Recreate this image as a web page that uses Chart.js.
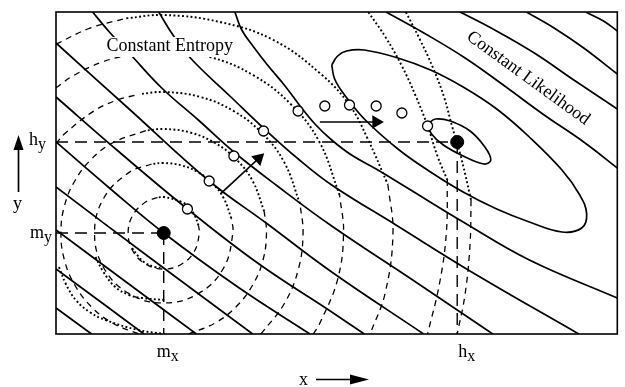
<!DOCTYPE html>
<html>
<head>
<meta charset="utf-8">
<script src="https://cdn.jsdelivr.net/npm/chart.js@4.4.1/dist/chart.umd.min.js"></script>
<style>body{margin:0;background:#fff}</style>
</head>
<body>
<canvas id="chart" width="625" height="387"></canvas>
<script>
// all points, plot box spans 568 x 322 units
var mPoint = [109, 101];
var hPoint = [406, 192];
var trajectory = [[133,125],[155,153],[180,178],[210,203],[245,223],[272,228],[297,229],[324,228],[350,221],[376,208]];

// constant likelihood (solid), lower-left sides of the ellipses round h
var like_a = [[0,26],[18,13],[36,0]];
var like_b = [[0,65],[44,33],[89,0]];
var like_c = [[0,104],[71,52],[142,0]];
var like_d = [[0,147],[94,77],[199,0]];
var like_e = [[0,192],[54,146],[109,101],[184,47],[257,0]];
var like_f = [[0,237],[64,182],[133,125],[204,71],[279,22],[312,0]];
var like_g = [[0,291],[74,225],[155,153],[214,110],[279,62],[372,0]];
var like_h = [[37,322],[54,302],[74,281],[107,246],[144,214],[180,182],[224,148],[279,108],[364,52],[442,0]];
var like_i = [[104,322],[117,301],[136,276],[177,237],[211,205],[244,176],[279,149],[344,109],[424,60],[529,0]];
var like_j = [[181,322],[188,304],[200,287],[214,269],[231,249],[247,228],[262,210],[279,194],[299,179],[324,165],[354,147],[412,112],[479,74],[568,36]];
// upper-right sides
var like_j2 = [[334,322],[374,300],[414,276],[454,248],[494,219],[534,192],[568,166]];
var like_i2 = [[409,322],[444,304],[484,281],[524,254],[568,225]];
var like_h2 = [[476,322],[504,306],[534,286],[568,260]];
var like_g2 = [[536,322],[554,313],[568,303]];
// closed ellipses
var like_e2 = [[279,269],[285,278],[294,283],[312,284],[346,276],[379,264],[412,247],[446,225],[479,197],[512,164],[530,139],[537,120],[532,106],[512,102],[479,112],[446,125],[412,142],[379,162],[346,185],[312,215],[292,239],[282,255],[279,269]];
var like_e1 = [[376,210],[384,215],[399,213],[419,203],[434,187],[440,174],[433,170],[412,178],[392,189],[380,200],[376,210]];

// constant entropy, round m: dashed parts
var ent6_dash = [[102.7,136.5],[91,132.2],[77.8,119],[73,101],[77.8,83],[91,69.8],[109,65],[127,69.8],[140.2,83],[145,101],[144.2,108.5]];
var ent5_dash = [[96.8,170],[74,161.6],[48.4,136],[39,101],[48.4,66],[74,40.4],[109,31],[144,40.4],[169.6,66],[179,101],[177.5,115.6]];
var ent4_dash_l = [[90.9,203.4],[57,191],[35.5,174.5],[19,153],[8.5,128],[5,101],[8.5,74],[19,49],[35.5,27.5],[57,11],[84,0]];
var ent4_dash_r = [[134,0],[161,11],[182.5,27.5],[199,49],[209.5,74],[213,101],[210.7,122.6]];
var ent3_dash_l = [[0,190.4],[9.3,200.7],[38.5,223.1],[60.7,233.5],[84.5,239.9]];
var ent3_dash_r = [[207.4,0],[231.1,30.5],[245.2,64.5],[250,101],[246.9,130.3]];
var ent2_dash_l = [[0,246.3],[18,258.6],[46.8,272],[77.4,280.2]];
var ent2_dash_r = [[260.4,0],[266.6,10],[284.8,53.9],[291,101],[287,138.9]];
var ent1_dash_l = [[0,289.8],[34.4,305.9],[71.1,315.7]];
var ent1_dash_r = [[335.9,149.3],[341,101],[333.1,41],[317.9,0]];
var ent0_dash = [[396,154],[395,101],[388,50],[376,0]];
var entm_dash = [[420,134],[419,90],[414,40],[406,0]];
// dotted parts
var ent6_dot = [[144.2,108.5],[140.2,119],[134.5,126.5],[127,132.2],[109,137],[102.7,136.5]];
var ent6_low = [[77,86],[83,78],[89,72],[100,67],[109,66]];
var ent5_dot = [[177.5,115.6],[169.6,136],[158.5,150.5],[144,161.6],[127.1,168.6],[109,171],[96.8,170]];
var ent5_low = [[40,77],[48,62],[60,47],[74,39],[87,36],[110,34]];
var ent4_dot = [[210.7,122.6],[199,153],[182.5,174.5],[161,191],[135.9,201.5],[109,205],[90.9,203.4]];
var ent4_low = [[3,67],[10,50],[20,34],[34,22],[50,14],[83,4],[110,0]];
var ent3_dot = [[246.9,130.3],[231.1,171.5],[208.7,200.7],[179.5,223.1],[145.5,237.2],[109,242],[84.5,239.9]];
var ent2_dot = [[287,138.9],[266.6,192],[237.7,229.7],[200,258.6],[156.1,276.8],[109,283],[77.4,280.2]];
var ent1_dot = [[71.1,315.7],[109,319],[166,312],[220,294],[268,260],[297,229],[315,196],[335.9,149.3]];
var ent0_dot = [[316,322],[334,296],[350,268],[364,238],[376,208],[386,178],[396,154]];
var entm_dot = [[354,322],[368,295],[382,265],[393,236],[401,207],[409,180],[414,160],[420,134]];

// guides and arrows
var hyLine = [[0,192],[406,192]];
var hxLine = [[406,192],[406,0]];
var myLine = [[0,101],[109,101]];
var mxLine = [[109,101],[109,0]];
var arrowUp = [[166.7,140.3],[205,175.5]];
var arrowRight = [[267,212],[324,212]];

function pts(arr){ return arr.map(function(p){ return {x:p[0], y:p[1]}; }); }
function solid(arr){ return {data:pts(arr), showLine:true, borderColor:'#000', borderWidth:1.7, pointRadius:0, tension:0.4}; }
function dashed(arr){ return {data:pts(arr), showLine:true, borderColor:'#000', borderWidth:1.3, borderDash:[6,5], pointRadius:0, tension:0.4}; }
function dotted(arr){ return {data:pts(arr), showLine:true, borderColor:'#000', borderWidth:1.9, borderDash:[1.9,2.4], borderCapStyle:'butt', pointRadius:0, tension:0.4}; }
function guide(arr){ return {data:pts(arr), showLine:true, borderColor:'#000', borderWidth:1.4, borderDash:[12,7], pointRadius:0}; }
function arrow(arr, rot){ return {data:pts(arr), showLine:true, borderColor:'#000', borderWidth:1.7, pointRadius:[0,6], pointStyle:'triangle', pointRotation:[0,rot], pointBackgroundColor:'#000', pointBorderColor:'#000'}; }

var datasets = [
  {data:pts([mPoint, hPoint]), pointRadius:6.5, pointBackgroundColor:'#000', pointBorderColor:'#000'},
  {data:pts(trajectory), pointRadius:5, pointBackgroundColor:'#fff', pointBorderColor:'#000', pointBorderWidth:1.3},
  arrow(arrowUp, 47), arrow(arrowRight, 90),
  guide(hyLine), guide(hxLine), guide(myLine), guide(mxLine)
];
[like_a, like_b, like_c, like_d, like_e, like_f, like_g, like_h, like_i, like_j,
 like_j2, like_i2, like_h2, like_g2, like_e2, like_e1].forEach(function(c){ datasets.push(solid(c)); });
[ent6_dash, ent5_dash, ent4_dash_l, ent4_dash_r, ent3_dash_l, ent3_dash_r, ent2_dash_l, ent2_dash_r,
 ent1_dash_l, ent1_dash_r, ent0_dash, entm_dash].forEach(function(c){ datasets.push(dashed(c)); });
[ent6_dot, ent6_low, ent5_dot, ent5_low, ent4_dot, ent4_low, ent3_dot, ent2_dot, ent1_dot, ent0_dot, entm_dot].forEach(function(c){ datasets.push(dotted(c)); });

var serif = '"Liberation Serif", "DejaVu Serif", serif';

// letter with a lowered suffix, right edge or left edge at x
function subLabel(ctx, a, b, x, y, alignRight){
  ctx.font = '18px ' + serif;
  var w1 = ctx.measureText(a).width;
  ctx.font = '16px ' + serif;
  var w2 = ctx.measureText(b).width;
  var x0 = alignRight ? x - w1 - w2 : x;
  ctx.font = '18px ' + serif;
  ctx.fillText(a, x0, y);
  ctx.font = '16px ' + serif;
  ctx.fillText(b, x0 + w1, y + 4);
}

var decor = {
  id: 'decor',
  afterDatasetsDraw: function(chart){
    var ctx = chart.ctx, a = chart.chartArea, xs = chart.scales.x, ys = chart.scales.y;
    ctx.save();
    ctx.fillStyle = '#000';
    ctx.strokeStyle = '#000';
    ctx.textBaseline = 'alphabetic';

    // Constant Entropy, on a white patch
    ctx.font = '18px ' + serif;
    var tx = xs.getPixelForValue(51), ty = ys.getPixelForValue(283);
    var tw = ctx.measureText('Constant Entropy').width;
    ctx.fillStyle = '#fff';
    ctx.fillRect(tx - 3, ty - 14, tw + 6, 20);
    ctx.fillStyle = '#000';
    ctx.fillText('Constant Entropy', tx, ty);

    // Constant Likelihood, slanted
    ctx.save();
    ctx.translate(xs.getPixelForValue(478), ys.getPixelForValue(256));
    ctx.rotate(36 * Math.PI / 180);
    ctx.font = '18px ' + serif;
    ctx.textAlign = 'center';
    ctx.fillText('Constant Likelihood', 0, 5);
    ctx.restore();

    // frame
    ctx.lineWidth = 1.6;
    ctx.setLineDash([]);
    ctx.strokeRect(a.left, a.top, a.right - a.left, a.bottom - a.top);

    // tick names
    ctx.textAlign = 'left';
    var hy = ys.getPixelForValue(hPoint[1]), my = ys.getPixelForValue(mPoint[1]);
    var hx = xs.getPixelForValue(hPoint[0]), mx = xs.getPixelForValue(mPoint[0]);
    subLabel(ctx, 'h', 'y', a.left - 10, hy + 3, true);
    subLabel(ctx, 'm', 'y', a.left - 4, my + 5, true);
    subLabel(ctx, 'm', 'x', mx - 7, a.bottom + 23, false);
    subLabel(ctx, 'h', 'x', hx + 1, a.bottom + 23, false);

    // axis names with arrows
    ctx.font = '18px ' + serif;
    ctx.fillText('y', 13, 209);
    ctx.fillText('x', 299, 385);
    ctx.lineWidth = 1.7;
    ctx.beginPath();
    ctx.moveTo(18.5, 192); ctx.lineTo(18.5, 146);
    ctx.moveTo(316, 379.5); ctx.lineTo(354, 379.5);
    ctx.stroke();
    ctx.beginPath();
    ctx.moveTo(18.5, 135); ctx.lineTo(13.5, 150); ctx.lineTo(23.5, 150); ctx.closePath();
    ctx.fill();
    ctx.beginPath();
    ctx.moveTo(369, 379.5); ctx.lineTo(350, 374.5); ctx.lineTo(350, 384.5); ctx.closePath();
    ctx.fill();
    ctx.restore();
  }
};

new Chart(document.getElementById('chart'), {
  type: 'scatter',
  data: { datasets: datasets },
  options: {
    responsive: false,
    devicePixelRatio: 1,
    animation: false,
    layout: { padding: { left: 56, top: 12, right: 1, bottom: 53 } },
    plugins: { legend: { display: false }, tooltip: { enabled: false } },
    scales: {
      x: { type: 'linear', min: 0, max: 568, display: false },
      y: { type: 'linear', min: 0, max: 322, display: false }
    }
  },
  plugins: [decor]
});
</script>
</body>
</html>
